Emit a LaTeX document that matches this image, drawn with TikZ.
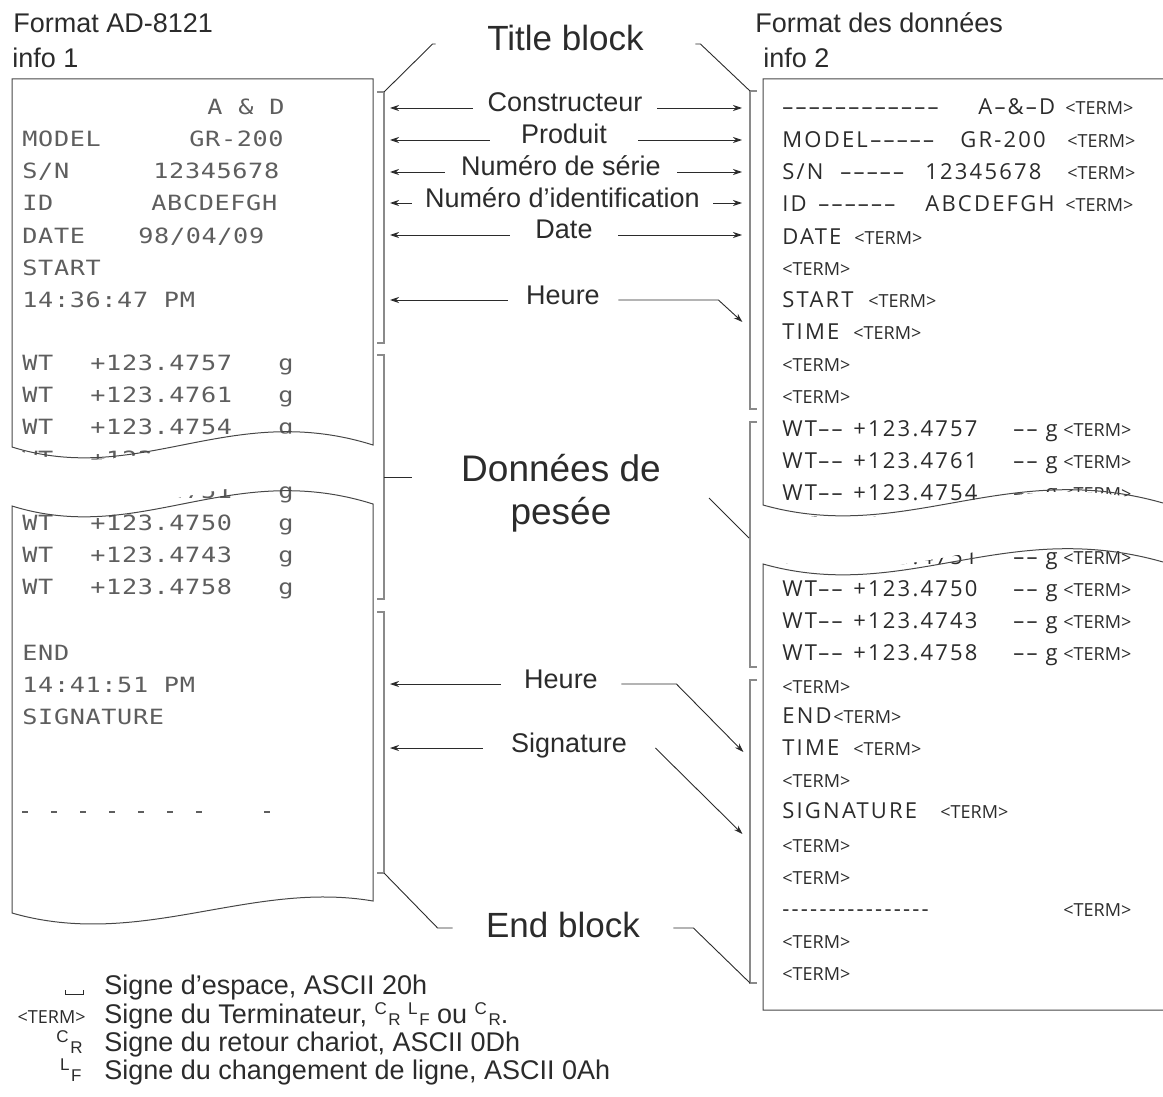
\documentclass[tikz,border=0pt]{standalone}
\usepackage{fontspec}
\setmainfont{Liberation Sans}
\newfontfamily\dotfont[FakeStretch=1.2, LetterSpace=3]{DejaVu Sans Mono}
\newfontfamily\datfont[LetterSpace=10]{Open Sans}
\newfontfamily\termfont{Open Sans}
\usepackage{tikz}
\usetikzlibrary{arrows.meta}
\definecolor{ink}{HTML}{2B2B2B}
\definecolor{dotc}{HTML}{5E5E5E}
\definecolor{edge}{HTML}{474747}
\definecolor{brk}{HTML}{8A8A8A}
\newcommand\tm{{\termfont\fontsize{9}{10}\selectfont<TERM>}}
\newcommand\crlf[2]{\raisebox{4.5pt}{\fontsize{8.5}{9}\selectfont#1}\kern0.8pt\raisebox{-1pt}{\fontsize{8.5}{9}\selectfont#2}}

\begin{document}
\begin{tikzpicture}[x=0.5pt, y=-0.5pt,
  head/.style={font=\fontsize{13.5}{16}\selectfont, text=ink, inner sep=0pt, anchor=base west},
  lab/.style={font=\fontsize{13.5}{16}\selectfont, text=ink, inner sep=0pt, text height=10pt, text depth=6pt},
  big/.style={font=\fontsize{17.5}{21}\selectfont, text=ink, inner sep=0pt, text height=13pt},
  prt/.style={font=\dotfont\fontsize{10.5}{12}\selectfont, text=dotc, inner sep=0pt, anchor=base west},
  dat/.style={font=\datfont\fontsize{11}{13}\selectfont, text=ink, inner sep=0pt, anchor=base west},
  paper/.style={draw=edge, line width=0.5pt},
  brace/.style={draw=brk, line width=0.7pt},
  link/.style={draw=ink, line width=0.45pt},
  arr/.style={link, -{Stealth[length=4.5pt, width=3pt]}},
  arrL/.style={arr, shorten >=3pt},
  arrR/.style={arr, shorten >=4pt}
]
  \useasboundingbox (0,0) rectangle (1163,1097);

  \node[head] (fmt1) at (13,33) {Format AD-8121};
  \node[head] (inf1) at (12,68) {info 1};
  \node[head] (fmt2) at (755,33) {Format des données};
  \node[head] (inf2) at (763,68) {info 2};

  \foreach \x/\y/\t [count=\k] in {207/115/{A \& D}, 22/147/MODEL, 189/147/GR-200,
      22/179/{S/N}, 153/179/12345678, 22/211/ID, 151/211/ABCDEFGH, 22/243/DATE,
      138/243/{98/04/09}, 22/275/START, 22/307/{14:36:47 PM}, 22/660/END,
      22/692/{14:41:51 PM}, 22/724/SIGNATURE}
    \node[prt] (p\k) at (\x,\y) {\t};
  \foreach \x in {22,51,80,109,138,167,196,264}
    \draw[dotc, line width=1pt] (\x,812) -- ++(6,0);

  \foreach \x/\y/\t [count=\k] in {782/115/{––––––––––––}, 978/115/{A–\&–D}, 1065/115/\tm,
      782/148/MODEL, 870/148/{–––––}, 960/148/GR-200, 1067/148/\tm,
      782/180/{S/N}, 840/180/{–––––}, 925/180/12345678, 1067/180/\tm,
      782/212/ID, 818/212/{––––––}, 925/212/ABCDEFGH, 1065/212/\tm,
      782/244/DATE, 854/244/\tm, 782/276/\tm, 782/307/START, 868/307/\tm,
      782/339/TIME, 853/339/\tm, 782/371/\tm, 782/403/\tm,
      782/693/\tm, 782/723/END, 833/723/\tm, 782/755/TIME, 853/755/\tm,
      782/787/\tm, 782/818/SIGNATURE, 940/818/\tm, 782/852/\tm, 782/884/\tm,
      782/916/{----------------}, 1063/916/\tm, 782/948/\tm, 782/980/\tm}
    \node[dat] (d\k) at (\x,\y) {\t};

  \foreach \n [count=\k] in {4757,4761,4754,4752,4751,4750,4743,4758} {
    \node[prt] (wa\k) at (22,{338+32*\k}) {WT};
    \node[prt] (wb\k) at (90,{338+32*\k}) {+123.\n};
    \node[prt] (wc\k) at (278,{338+32*\k}) {g};
    \node[dat] (wd\k) at (782,{404+32*\k}) {WT––};
    \node[dat] (we\k) at (853,{404+32*\k}) {+123.\n};
    \node[dat] (wf\k) at (1013,{404+32*\k}) {–– g};
    \node[dat] (wg\k) at (1063,{404+32*\k}) {\tm};
  }

  \fill[white] (12,449) .. controls (140,489) and (230,402) .. (373,447)
    -- (373,497) .. controls (230,452) and (140,539) .. (12,499) -- cycle;
  \fill[white] (763,507) .. controls (905,547) and (1005,460) .. (1163,505)
    -- (1163,556) .. controls (1005,511) and (905,598) .. (763,558) -- cycle;

  \draw[paper] (373,445) .. controls (230,400) and (140,487) .. (12,447)
    -- (12,79) -- (373,79) -- cycle;
  \draw[paper] (12,506) .. controls (140,546) and (230,459) .. (373,504)
    -- (373,901) .. controls (250,880) and (140,950) .. (12,913) -- cycle;
  \draw[paper] (1163,503) .. controls (1005,458) and (905,545) .. (763,505)
    -- (763,79) -- (1163,79);
  \draw[paper] (1163,562) .. controls (1005,517) and (905,604) .. (763,564)
    -- (763,1010) -- (1163,1010);

  \foreach \t/\b in {92/343, 355/599, 612/873}
    \draw[brace] (377,\t) -- (384,\t) -- (384,\b) -- (377,\b);
  \foreach \t/\b in {91/409, 422/667, 680/983}
    \draw[brace] (757,\t) -- (750,\t) -- (750,\b) -- (757,\b);
  \coordinate (bL1) at (384,92);
  \coordinate (bL2) at (384,477);
  \coordinate (bL3) at (384,873);
  \coordinate (bR1) at (750,91);
  \coordinate (bR2) at (749,538);
  \coordinate (bR3) at (750,983);

  \node[big, text depth=6pt, minimum width=129.5pt] (ttl) at (565.5,44) {Title block};
  \draw[link] (ttl.west) -- ++(-3,0) -- (bL1);
  \draw[link] (ttl.east) -- ++(5,0) -- (bR1);

  \foreach \n/\y/\w/\c/\t in {con/108/92/565/Constructeur, pro/140/74/564/Produit,
      ser/172/116/561/{Numéro de série}, idn/203/150.5/562.5/{Numéro d’identification},
      dat/235/54/564/Date} {
    \node[lab, minimum width=\w pt] (l\n) at (\c,\y) {\t};
    \draw[arrL] (l\n.west) -- (l\n.west -| bL1);
    \draw[arrR] (l\n.east) -- (l\n.east -| bR1);
  }
  \node[lab, minimum width=55pt] (lheu) at (563,300) {Heure};
  \draw[arrL] (lheu.west) -- (lheu.west -| bL1);
  \draw[arr] (lheu.east) -- ++(100,0) -- ++(24,22);

  \node[font=\fontsize{18.5}{21.5}\selectfont, text=ink, align=center, inner sep=0pt] (wgt)
    at (561,493) {Données de\\pesée};
  \draw[link] (bL2) -- ++(28,0);
  \draw[link] (bR2) -- ++(-40,-40);

  \node[lab, minimum width=60pt] (lhe2) at (561,684) {Heure};
  \draw[arrL] (lhe2.west) -- (lhe2.west -| bL3);
  \draw[arr] (lhe2.east) -- ++(55,0) -- ++(67,68);
  \node[lab, minimum width=86pt] (lsig) at (569,748) {Signature};
  \draw[arrL] (lsig.west) -- (lsig.west -| bL3);
  \draw[arr] (lsig.east) -- ++(87,86);

  \node[big, text depth=4pt, minimum width=110pt] (endb) at (563,928) {End block};
  \draw[link] (endb.west) -- ++(-15,0) -- (bL3);
  \draw[link] (endb.east) -- ++(20,0) -- (bR3);

  \draw[link] (65,990) -- (65,994) -- (83,994) -- (83,990);
  \node[head] (lg1) at (104,994) {Signe d’espace, ASCII 20h};
  \node[inner sep=0pt, text=ink, anchor=base east] (sy2) at (86,1023) {\tm};
  \node[head] (lg2) at (104,1023) {Signe du Terminateur, \crlf CR\ \crlf LF ou \crlf CR.};
  \node[inner sep=0pt, text=ink, anchor=base east] (sy3) at (83,1051) {\crlf CR};
  \node[head] (lg3) at (104,1051) {Signe du retour chariot, ASCII 0Dh};
  \node[inner sep=0pt, text=ink, anchor=base east] (sy4) at (82,1079) {\crlf LF};
  \node[head] (lg4) at (104,1079) {Signe du changement de ligne, ASCII 0Ah};
\end{tikzpicture}
\end{document}
